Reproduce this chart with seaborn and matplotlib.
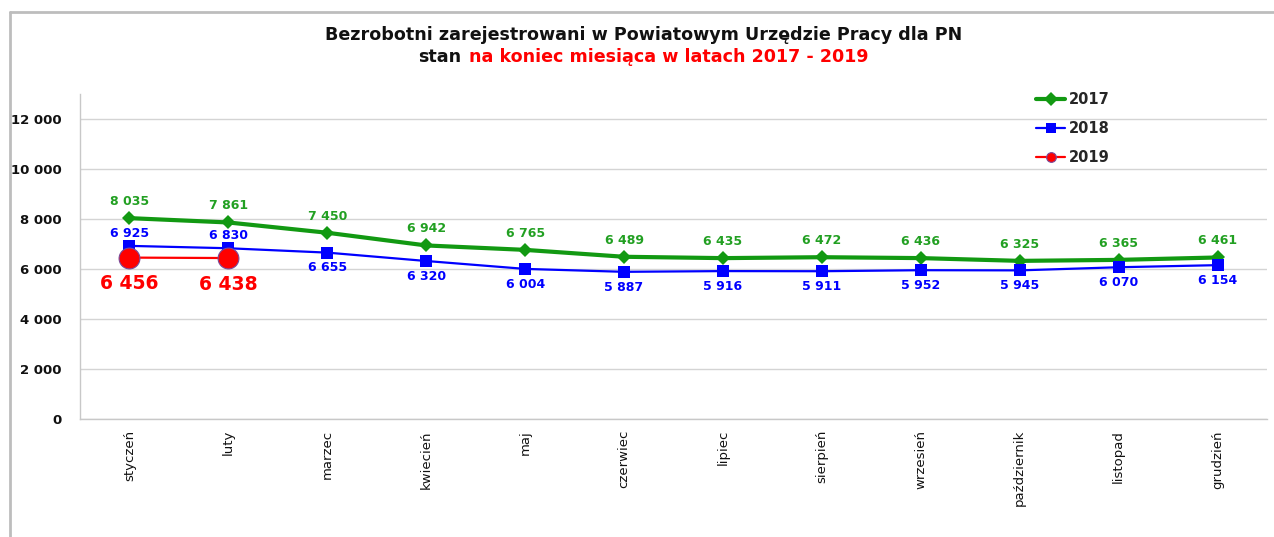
import matplotlib
matplotlib.use("Agg")
import matplotlib.pyplot as plt
import seaborn as sns
import pandas as pd
from matplotlib.lines import Line2D
from matplotlib.offsetbox import TextArea, HPacker, AnchoredOffsetbox

months = ["styczeń", "luty", "marzec", "kwiecień", "maj", "czerwiec", "lipiec",
          "sierpień", "wrzesień", "październik", "listopad", "grudzień"]
v2017 = [8035, 7861, 7450, 6942, 6765, 6489, 6435, 6472, 6436, 6325, 6365, 6461]
v2018 = [6925, 6830, 6655, 6320, 6004, 5887, 5916, 5911, 5952, 5945, 6070, 6154]
v2019 = [6456, 6438]
yticks = [0, 2000, 4000, 6000, 8000, 10000, 12000]

GREEN = "#129912"
GREEN_TXT = "#22a022"
BLUE = "#0000ff"
RED = "#ff0000"

sns.set_theme(style="white")
plt.rcParams["font.family"] = ["DejaVu Sans"]

fig = plt.figure(figsize=(12.74, 5.37), dpi=100)
ax = fig.add_axes([80 / 1274, 1 - 419 / 537, (1267 - 80) / 1274, (419 - 94) / 537])

df17 = pd.DataFrame({"month": months, "value": v2017})
df18 = pd.DataFrame({"month": months, "value": v2018})
df19 = pd.DataFrame({"month": months[:len(v2019)], "value": v2019})

sns.lineplot(data=df17, x="month", y="value", ax=ax, color=GREEN, lw=3,
             marker="D", markersize=7, markeredgewidth=0, label="2017", sort=False, zorder=3)
sns.lineplot(data=df18, x="month", y="value", ax=ax, color=BLUE, lw=1.6,
             marker="s", markersize=9, markeredgewidth=0, label="2018", sort=False, zorder=3)
sns.lineplot(data=df19, x="month", y="value", ax=ax, color=RED, lw=1.6,
             marker="o", markersize=15, markeredgewidth=0.8, markeredgecolor="#7a4a9a",
             label="2019", sort=False, zorder=4)

def fmt(v):
    return f"{v:,}".replace(",", " ")

for i, v in enumerate(v2017):
    ax.annotate(fmt(v), (i, v), xytext=(0, 12), textcoords="offset points",
                ha="center", va="center", color=GREEN_TXT, fontsize=9, fontweight="bold")
for i, v in enumerate(v2018):
    dy = 9 if i < 2 else -11
    ax.annotate(fmt(v), (i, v), xytext=(0, dy), textcoords="offset points",
                ha="center", va="center", color=BLUE, fontsize=9, fontweight="bold")
for i, v in enumerate(v2019):
    ax.annotate(fmt(v), (i, v), xytext=(0, -19), textcoords="offset points",
                ha="center", va="center", color=RED, fontsize=13.5, fontweight="bold")

ax.set_xlim(-0.5, len(months) - 0.5)
ax.set_ylim(0, 13000)
ax.set_yticks(yticks)
ax.set_yticklabels([fmt(t) for t in yticks], fontsize=9.5, fontweight="bold", color="#111111")
ax.set_xticks(range(len(months)))
ax.set_xticklabels(months, rotation=90, fontsize=9.5, color="#111111", va="top")
ax.tick_params(axis="y", length=0, pad=13)
ax.tick_params(axis="x", length=0, pad=8)
ax.set_xlabel("")
ax.set_ylabel("")
ax.yaxis.grid(True, color="#d4d4d4", lw=1)
ax.xaxis.grid(False)
for s in ["top", "right"]:
    ax.spines[s].set_visible(False)
ax.spines["left"].set_color("#c8c8c8")
ax.spines["bottom"].set_color("#c8c8c8")
ax.spines["left"].set_linewidth(1)
ax.spines["bottom"].set_linewidth(1)

leg = ax.legend(loc="upper left", bbox_to_anchor=(1036 / 1274, 1 - 92 / 537),
                bbox_transform=fig.transFigure, frameon=False, borderpad=0,
                borderaxespad=0, handlelength=2.0, handletextpad=0.25, labelspacing=0.95,
                prop={"size": 10.5, "weight": "bold"})
for h in leg.legend_handles:
    h.set_markersize(7)

fig.text(0.505, 1 - 35 / 537, "Bezrobotni zarejestrowani w Powiatowym Urzędzie Pracy dla PN",
         ha="center", va="center", fontsize=12.6, fontweight="bold", color="#111111")
t1 = TextArea("stan", textprops=dict(color="#111111", fontsize=12.6, fontweight="bold"))
t2 = TextArea("na koniec miesiąca w latach 2017 - 2019",
              textprops=dict(color=RED, fontsize=12.6, fontweight="bold"))
box = HPacker(children=[t1, t2], align="baseline", pad=0, sep=5)
anch = AnchoredOffsetbox(loc="center", child=box, bbox_to_anchor=(0.505, 1 - 57 / 537),
                         bbox_transform=fig.transFigure, frameon=False, pad=0, borderpad=0)
fig.add_artist(anch)

# outer chart border (top and left visible)
fig.add_artist(Line2D([10 / 1274, 10 / 1274], [0, 1 - 12 / 537], transform=fig.transFigure,
                      color="#bdbdbd", lw=2))
fig.add_artist(Line2D([10 / 1274, 1], [1 - 12 / 537, 1 - 12 / 537], transform=fig.transFigure,
                      color="#bdbdbd", lw=2))

fig.savefig("out.png", dpi=100)
